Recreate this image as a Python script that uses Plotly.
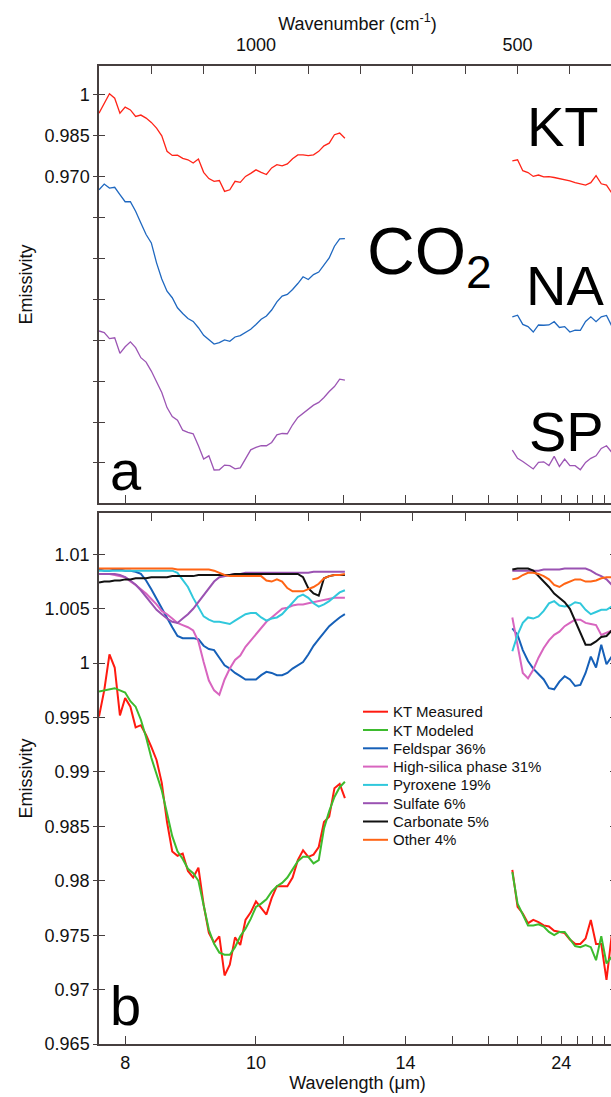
import plotly.graph_objects as go

# ---------------- data ----------------
# sampling grids, wavenumber (cm^-1)
WN_SHORT = list(range(1300, 829, -10))   # 1300 ... 830
WN_LONG = list(range(510, 319, -10))     # 510 ... 320

# wavelength tick marks (um); only some carry a label
WL_TICKS = [8, 10, 12, 14, 16, 18, 20, 22, 24, 26, 28, 30]
WL_LABELED = [8, 10, 14, 24]
WN_TICKS = [1200, 1100, 1000, 900, 800, 700, 600, 500, 400]
WN_LABELED = [1000, 500]

# panel a (offset spectra)
KT_A_SHORT = [0.9933, 0.9967, 1.0004, 0.9988, 0.9933, 0.9955, 0.9945, 0.9921, 0.9926, 0.9915,
              0.9899, 0.9878, 0.9850, 0.9793, 0.9778, 0.9779, 0.9767, 0.9762, 0.9750, 0.9765,
              0.9716, 0.9693, 0.9683, 0.9686, 0.9646, 0.9652, 0.9683, 0.9679, 0.9701, 0.9712,
              0.9725, 0.9716, 0.9708, 0.9732, 0.9744, 0.9740, 0.9747, 0.9766, 0.9780, 0.9780,
              0.9777, 0.9780, 0.9793, 0.9813, 0.9823, 0.9854, 0.9860, 0.9841]
KT_A_LONG = [0.9758, 0.9762, 0.9722, 0.9715, 0.9701, 0.9706, 0.9699, 0.9700, 0.9697, 0.9693,
             0.9690, 0.9685, 0.9678, 0.9673, 0.9669, 0.9678, 0.9704, 0.9674, 0.9669, 0.9640]
NA_A_SHORT = [0.9652, 0.9673, 0.9658, 0.9661, 0.9634, 0.9608, 0.9608, 0.9573, 0.9530, 0.9488,
              0.9457, 0.9384, 0.9325, 0.9280, 0.9256, 0.9219, 0.9198, 0.9180, 0.9169, 0.9146,
              0.9118, 0.9103, 0.9086, 0.9091, 0.9101, 0.9096, 0.9112, 0.9117, 0.9128, 0.9140,
              0.9158, 0.9177, 0.9189, 0.9211, 0.9241, 0.9262, 0.9268, 0.9286, 0.9308, 0.9333,
              0.9323, 0.9341, 0.9350, 0.9375, 0.9402, 0.9445, 0.9472, 0.9473]
NA_A_LONG = [0.9186, 0.9192, 0.9158, 0.9150, 0.9130, 0.9156, 0.9155, 0.9156, 0.9168, 0.9147,
             0.9150, 0.9130, 0.9137, 0.9136, 0.9169, 0.9186, 0.9168, 0.9186, 0.9191, 0.9152]
SP_A_SHORT = [0.9134, 0.9128, 0.9106, 0.9109, 0.9052, 0.9076, 0.9094, 0.9073, 0.9036, 0.9020,
              0.8987, 0.8945, 0.8908, 0.8853, 0.8820, 0.8807, 0.8770, 0.8762, 0.8757, 0.8713,
              0.8664, 0.8676, 0.8624, 0.8625, 0.8642, 0.8640, 0.8628, 0.8632, 0.8667, 0.8698,
              0.8707, 0.8713, 0.8713, 0.8725, 0.8753, 0.8758, 0.8757, 0.8790, 0.8817, 0.8832,
              0.8845, 0.8862, 0.8872, 0.8890, 0.8912, 0.8930, 0.8957, 0.8954]
SP_A_LONG = [0.8697, 0.8667, 0.8655, 0.8643, 0.8628, 0.8652, 0.8654, 0.8640, 0.8674, 0.8637,
             0.8664, 0.8640, 0.8640, 0.8625, 0.8652, 0.8667, 0.8676, 0.8703, 0.8713, 0.8689]

# panel b (KT measured, model and end-members)
MEAS_SHORT = [0.9951, 0.9975, 1.0008, 0.9996, 0.9952, 0.9968, 0.9960, 0.9941, 0.9943, 0.9934,
              0.9923, 0.9911, 0.9890, 0.9854, 0.9827, 0.9823, 0.9825, 0.9809, 0.9803, 0.9812,
              0.9778, 0.9752, 0.9743, 0.9749, 0.9713, 0.9723, 0.9748, 0.9741, 0.9764, 0.9771,
              0.9781, 0.9775, 0.9769, 0.9784, 0.9795, 0.9795, 0.9795, 0.9803, 0.9819, 0.9828,
              0.9822, 0.9824, 0.9831, 0.9854, 0.9859, 0.9885, 0.9889, 0.9876]
MEAS_LONG = [0.9810, 0.9776, 0.9770, 0.9761, 0.9764, 0.9762, 0.9759, 0.9758, 0.9754, 0.9753,
             0.9752, 0.9746, 0.9742, 0.9742, 0.9747, 0.9764, 0.9742, 0.9742, 0.9709, 0.9750]
MOD_SHORT = [0.9974, 0.9975, 0.9976, 0.9977, 0.9975, 0.9973, 0.9965, 0.9960, 0.9948, 0.9932,
             0.9913, 0.9897, 0.9883, 0.9862, 0.9841, 0.9827, 0.9820, 0.9811, 0.9807, 0.9800,
             0.9779, 0.9755, 0.9742, 0.9734, 0.9732, 0.9732, 0.9739, 0.9749, 0.9756, 0.9765,
             0.9776, 0.9779, 0.9783, 0.9790, 0.9795, 0.9798, 0.9803, 0.9810, 0.9818, 0.9822,
             0.9822, 0.9816, 0.9819, 0.9848, 0.9864, 0.9877, 0.9886, 0.9891]
MOD_LONG = [0.9808, 0.9779, 0.9769, 0.9759, 0.9759, 0.9760, 0.9758, 0.9753, 0.9750, 0.9753,
            0.9753, 0.9747, 0.9740, 0.9739, 0.9741, 0.9739, 0.9727, 0.9749, 0.9724, 0.9730]
FELD_SHORT = [1.0086, 1.0085, 1.0085, 1.0086, 1.0086, 1.0085, 1.0085, 1.0084, 1.0082, 1.0076,
              1.0068, 1.0059, 1.0050, 1.0041, 1.0033, 1.0025, 1.0023, 1.0023, 1.0023, 1.0022,
              1.0016, 1.0013, 1.0012, 1.0005, 0.9998, 0.9995, 0.9991, 0.9988, 0.9985, 0.9985,
              0.9985, 0.9989, 0.9992, 0.9991, 0.9989, 0.9989, 0.9991, 0.9995, 0.9998, 1.0001,
              1.0008, 1.0016, 1.0022, 1.0028, 1.0034, 1.0038, 1.0042, 1.0045]
FELD_LONG = [1.0032, 1.0026, 1.0012, 1.0002, 0.9995, 0.9990, 0.9985, 0.9977, 0.9976, 0.9983,
             0.9988, 0.9985, 0.9979, 0.9980, 0.9991, 1.0006, 0.9996, 1.0017, 0.9999, 1.0006]
SILICA_SHORT = [1.0082, 1.0082, 1.0082, 1.0081, 1.0080, 1.0079, 1.0075, 1.0072, 1.0068, 1.0064,
                1.0059, 1.0054, 1.0048, 1.0045, 1.0041, 1.0037, 1.0035, 1.0033, 1.0030, 1.0020,
                1.0001, 0.9984, 0.9975, 0.9971, 0.9985, 0.9995, 1.0003, 1.0007, 1.0015, 1.0021,
                1.0027, 1.0032, 1.0038, 1.0042, 1.0046, 1.0050, 1.0051, 1.0053, 1.0054, 1.0054,
                1.0055, 1.0056, 1.0057, 1.0058, 1.0059, 1.0060, 1.0060, 1.0060]
SILICA_LONG = [1.0042, 1.0018, 0.9991, 0.9986, 0.9994, 1.0005, 1.0014, 1.0021, 1.0026, 1.0029,
               1.0034, 1.0037, 1.0040, 1.0040, 1.0037, 1.0036, 1.0035, 1.0026, 1.0028, 1.0030]
PYX_SHORT = [1.0085, 1.0085, 1.0085, 1.0085, 1.0085, 1.0085, 1.0085, 1.0085, 1.0085, 1.0085,
             1.0085, 1.0085, 1.0085, 1.0085, 1.0085, 1.0083, 1.0076, 1.0070, 1.0060, 1.0051,
             1.0043, 1.0040, 1.0038, 1.0038, 1.0037, 1.0036, 1.0039, 1.0042, 1.0045, 1.0046,
             1.0046, 1.0042, 1.0039, 1.0041, 1.0042, 1.0045, 1.0050, 1.0056, 1.0061, 1.0063,
             1.0060, 1.0055, 1.0052, 1.0054, 1.0057, 1.0061, 1.0065, 1.0067]
PYX_LONG = [1.0011, 1.0026, 1.0037, 1.0042, 1.0041, 1.0043, 1.0048, 1.0055, 1.0057, 1.0053,
            1.0052, 1.0053, 1.0056, 1.0055, 1.0049, 1.0045, 1.0047, 1.0049, 1.0049, 1.0052]
SULF_SHORT = [1.0082, 1.0082, 1.0082, 1.0082, 1.0081, 1.0079, 1.0076, 1.0072, 1.0067, 1.0061,
              1.0055, 1.0049, 1.0045, 1.0041, 1.0038, 1.0037, 1.0041, 1.0045, 1.0050, 1.0056,
              1.0063, 1.0069, 1.0075, 1.0079, 1.0080, 1.0081, 1.0082, 1.0082, 1.0083, 1.0083,
              1.0083, 1.0083, 1.0083, 1.0083, 1.0083, 1.0083, 1.0083, 1.0083, 1.0083, 1.0083,
              1.0083, 1.0084, 1.0084, 1.0084, 1.0084, 1.0084, 1.0084, 1.0084]
SULF_LONG = [1.0085, 1.0085, 1.0085, 1.0085, 1.0085, 1.0085, 1.0086, 1.0086, 1.0086, 1.0086,
             1.0087, 1.0087, 1.0087, 1.0087, 1.0087, 1.0085, 1.0082, 1.0080, 1.0077, 1.0072]
CARB_SHORT = [1.0074, 1.0075, 1.0075, 1.0076, 1.0076, 1.0077, 1.0077, 1.0078, 1.0078, 1.0078,
              1.0079, 1.0079, 1.0079, 1.0079, 1.0080, 1.0080, 1.0080, 1.0080, 1.0080, 1.0081,
              1.0081, 1.0081, 1.0081, 1.0081, 1.0081, 1.0081, 1.0082, 1.0082, 1.0082, 1.0082,
              1.0082, 1.0082, 1.0082, 1.0082, 1.0082, 1.0082, 1.0082, 1.0082, 1.0082, 1.0079,
              1.0069, 1.0064, 1.0062, 1.0078, 1.0080, 1.0081, 1.0081, 1.0081]
CARB_LONG = [1.0086, 1.0087, 1.0087, 1.0087, 1.0085, 1.0080, 1.0075, 1.0070, 1.0064, 1.0060,
             1.0056, 1.0050, 1.0039, 1.0027, 1.0017, 1.0017, 1.0020, 1.0024, 1.0025, 1.0030]
OTHER_SHORT = [1.0087, 1.0087, 1.0087, 1.0087, 1.0087, 1.0087, 1.0087, 1.0087, 1.0087, 1.0087,
               1.0087, 1.0087, 1.0087, 1.0087, 1.0087, 1.0086, 1.0086, 1.0086, 1.0086, 1.0086,
               1.0086, 1.0086, 1.0085, 1.0083, 1.0081, 1.0080, 1.0080, 1.0080, 1.0080, 1.0080,
               1.0080, 1.0080, 1.0076, 1.0075, 1.0077, 1.0075, 1.0069, 1.0066, 1.0066, 1.0066,
               1.0068, 1.0070, 1.0073, 1.0078, 1.0080, 1.0081, 1.0081, 1.0082]
OTHER_LONG = [1.0077, 1.0078, 1.0081, 1.0083, 1.0083, 1.0082, 1.0080, 1.0077, 1.0072, 1.0070,
              1.0073, 1.0075, 1.0077, 1.0077, 1.0075, 1.0075, 1.0076, 1.0078, 1.0079, 1.0079]

A_SERIES = [("KT", KT_A_SHORT, KT_A_LONG, "#ff2418"),
            ("NA", NA_A_SHORT, NA_A_LONG, "#1f68c0"),
            ("SP", SP_A_SHORT, SP_A_LONG, "#9c55b4")]
B_SERIES = [("KT Measured", MEAS_SHORT, MEAS_LONG, "#ff1a10"),
            ("KT Modeled", MOD_SHORT, MOD_LONG, "#3dbb2e"),
            ("Feldspar 36%", FELD_SHORT, FELD_LONG, "#1660b8"),
            ("High-silica phase 31%", SILICA_SHORT, SILICA_LONG, "#d865bf"),
            ("Pyroxene 19%", PYX_SHORT, PYX_LONG, "#30c8dc"),
            ("Sulfate 6%", SULF_SHORT, SULF_LONG, "#9a52b2"),
            ("Carbonate 5%", CARB_SHORT, CARB_LONG, "#111111"),
            ("Other 4%", OTHER_SHORT, OTHER_LONG, "#ff6414")]

A_TICKS = [1.0, 0.985, 0.970, 0.955, 0.940, 0.925, 0.910, 0.895, 0.880, 0.865]
A_LABELED = [1.0, 0.985, 0.970]
A_TICKTEXT = ["1", "0.985", "0.970"]
B_TICKS = [0.965, 0.97, 0.975, 0.98, 0.985, 0.99, 0.995, 1.0, 1.005, 1.01]
B_TICKTEXT = ["0.965", "0.97", "0.975", "0.98", "0.985", "0.99", "0.995", "1", "1.005", "1.01"]

# ---------------- layout geometry (pixels) ----------------
W, H = 616, 1097          # slightly wider than the window: right edge is cropped as in the reference
ML, MR, MT, MB = 99, 0, 66, 53
PW, PH = W - ML - MR, H - MT - MB
X_RANGE = [1300, 1300 - PW / 0.5232]
A_RANGE = [0.8503, 1.0106]
B_RANGE = [0.965, 1.0138]
A_DOMAIN = [(H - MB - 503) / PH, 1.0]
B_DOMAIN = [0.0, (H - MB - 513) / PH]

FONT = "Liberation Sans, Arial, sans-serif"
AXC = "#463f3f"


def px_x(px):
    return (px - ML) / PW


def px_y(py):
    return (H - MB - py) / PH


X = WN_SHORT + [None] + WN_LONG
wl_major = [1e4 / w for w in WL_LABELED]
wl_minor = [1e4 / w for w in WL_TICKS if w not in WL_LABELED]
wl_all = [1e4 / w for w in WL_TICKS]
wn_minor = [w for w in WN_TICKS if w not in WN_LABELED]
a_minor = [v for v in A_TICKS if v not in A_LABELED]

fig = go.Figure()

for name, s, l, c in A_SERIES:
    fig.add_trace(go.Scatter(x=X, y=s + [None] + l, mode="lines", name=name,
                             line=dict(color=c, width=1.3), showlegend=False,
                             xaxis="x2", yaxis="y2", connectgaps=False))

for name, s, l, c in B_SERIES:
    fig.add_trace(go.Scatter(x=X, y=s + [None] + l, mode="lines", name=name,
                             line=dict(color=c, width=2), xaxis="x", yaxis="y",
                             showlegend=False, connectgaps=False))

# helper traces so the tick-only overlay axes get drawn
for xa, ya in [("x3", "y"), ("x4", "y2"), ("x", "y3"), ("x2", "y4")]:
    fig.add_trace(go.Scatter(x=[None], y=[None], xaxis=xa, yaxis=ya,
                             showlegend=False, hoverinfo="skip"))

tickfont = dict(family=FONT, size=18, color="#111")
titlefont = dict(family=FONT, size=18, color="#111")
tick_style = dict(ticklen=8, tickcolor=AXC, tickwidth=1.2)
common_x = dict(range=X_RANGE, showgrid=False, zeroline=False, showline=True,
                linecolor=AXC, linewidth=1.5, ticks="inside", tickfont=tickfont,
                tickmode="array", **tick_style)
common_y = dict(showgrid=False, zeroline=False, showline=True, linecolor=AXC,
                linewidth=1.5, ticks="inside", ticklen=6, tickcolor=AXC,
                tickwidth=1.2, tickfont=tickfont, tickmode="array")


def minor(vals, ticks="inside", ln=8):
    return dict(tickmode="array", tickvals=vals, ticks=ticks, ticklen=ln,
                tickcolor=AXC, tickwidth=1.2, showgrid=False)


fig.update_layout(
    width=W, height=H,
    margin=dict(l=ML, r=MR, t=MT, b=MB, autoexpand=False),
    paper_bgcolor="white", plot_bgcolor="white",
    font=dict(family=FONT, color="#111"),
    showlegend=False,
    xaxis=dict(common_x, anchor="y", side="bottom",
               tickvals=wl_major, ticktext=[str(w) for w in WL_LABELED],
               minor=minor(wl_minor), ticklabelstandoff=2,
               title=dict(text="Wavelength (μm)", font=titlefont, standoff=3)),
    xaxis2=dict(common_x, anchor="y2", side="top",
                tickvals=WN_LABELED, ticktext=[str(w) for w in WN_LABELED],
                minor=minor(wn_minor), ticklabelstandoff=6,
                title=dict(text="Wavenumber (cm<sup>-1</sup>)", font=titlefont, standoff=0)),
    xaxis3=dict(common_x, anchor="y", side="top", overlaying="x",
                tickvals=WN_TICKS, showticklabels=False),
    xaxis4=dict(common_x, anchor="y2", side="bottom", overlaying="x2",
                tickvals=wl_all, showticklabels=False),
    yaxis=dict(common_y, domain=B_DOMAIN, range=B_RANGE, anchor="x",
               tickvals=B_TICKS, ticktext=B_TICKTEXT, mirror="ticks",
               ticklabelstandoff=4,
               title=dict(text="Emissivity", font=titlefont, standoff=7)),
    yaxis2=dict(common_y, domain=A_DOMAIN, range=A_RANGE, anchor="x2",
                tickvals=A_LABELED, ticktext=A_TICKTEXT, minor=minor(a_minor, ln=6),
                ticklabelstandoff=4,
                title=dict(text="Emissivity", font=titlefont, standoff=7)),
    yaxis3=dict(common_y, domain=B_DOMAIN, range=B_RANGE, anchor="x", overlaying="y",
                ticks="outside", ticklen=4, tickvals=B_TICKS, showticklabels=False),
    yaxis4=dict(common_y, domain=A_DOMAIN, range=A_RANGE, anchor="x2", overlaying="y2",
                ticks="outside", ticklen=4, tickvals=A_TICKS, showticklabels=False),
)

# legend (drawn as line samples + text, with the reference's tight row spacing)
LEG_X0, LEG_X1, LEG_TX, LEG_Y0, LEG_DY = 363, 388, 391, 711.7, 18.3
for i, (name, _, _, c) in enumerate(B_SERIES):
    yy = px_y(LEG_Y0 + i * LEG_DY)
    fig.add_shape(type="line", xref="paper", yref="paper", x0=px_x(LEG_X0), x1=px_x(LEG_X1),
                  y0=yy, y1=yy, line=dict(color=c, width=2))
    fig.add_annotation(text=name, x=px_x(LEG_TX), y=yy, xref="paper", yref="paper",
                       xanchor="left", yanchor="middle", showarrow=False,
                       font=dict(family=FONT, size=15, color="#111"))

big = dict(family=FONT, size=56, color="#000")
labels = [("KT", 525, 126.7), ("NA", 524, 285), ("SP", 527, 431),
          ("a", 108, 470.6), ("b", 107.5, 1005.6)]
for txt, px, py in labels:
    fig.add_annotation(text=txt, x=px_x(px), y=px_y(py), xref="paper", yref="paper",
                       xanchor="left", yanchor="middle", showarrow=False, font=big)
fig.add_annotation(text="CO<sub>2</sub>", x=px_x(365), y=px_y(256), xref="paper", yref="paper",
                   xanchor="left", yanchor="middle", showarrow=False,
                   font=dict(family=FONT, size=66, color="#000"))

fig.write_html("out.html", config={"displayModeBar": False},
               post_script="document.body.style.margin='0';document.body.style.overflow='hidden';")
